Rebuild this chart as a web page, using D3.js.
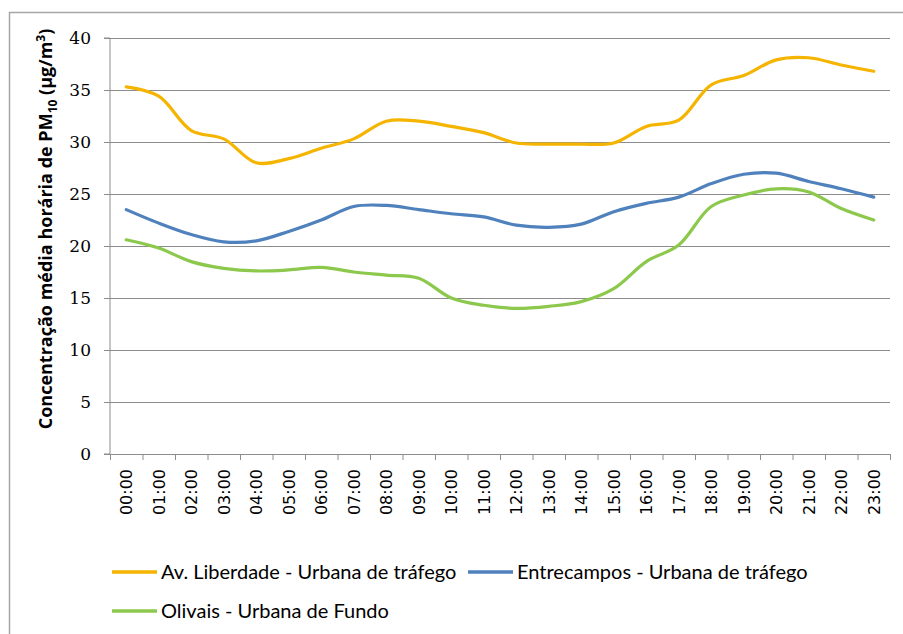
<!DOCTYPE html>
<html>
<head>
<meta charset="utf-8">
<script src="https://cdn.jsdelivr.net/npm/d3@7"></script>
<style>
  body { margin: 0; background: #fff; }
</style>
</head>
<body>
<div id="chart"></div>
<script>
const hours = ["00:00","01:00","02:00","03:00","04:00","05:00","06:00","07:00","08:00","09:00","10:00","11:00",
               "12:00","13:00","14:00","15:00","16:00","17:00","18:00","19:00","20:00","21:00","22:00","23:00"];
const avLiberdade = [35.3,34.4,31.1,30.3,28.0,28.4,29.4,30.3,32.0,32.0,31.5,30.9,
                     29.9,29.8,29.8,29.9,31.5,32.1,35.5,36.4,37.9,38.1,37.4,36.8];
const entrecampos = [23.5,22.2,21.1,20.4,20.5,21.4,22.5,23.8,23.9,23.5,23.1,22.8,
                     22.0,21.8,22.1,23.3,24.1,24.7,26.0,26.9,27.0,26.2,25.5,24.7];
const olivais = [20.6,19.8,18.5,17.85,17.6,17.7,17.95,17.5,17.2,16.9,15.0,14.3,
                 14.0,14.2,14.65,15.9,18.5,20.1,23.8,24.9,25.5,25.2,23.6,22.5];
const yTicks = [0,5,10,15,20,25,30,35,40];

const series = [
  { name: "Av. Liberdade - Urbana de tráfego", values: avLiberdade, color: "#F5B400" },
  { name: "Entrecampos - Urbana de tráfego", values: entrecampos, color: "#4F81BD" },
  { name: "Olivais - Urbana de Fundo", values: olivais, color: "#8CC84B" }
];

const svgWidth = 903;
const svgHeight = 634;
const margin = { top: 38, right: 13, bottom: 180, left: 110 };
const width = svgWidth - margin.left - margin.right;
const height = svgHeight - margin.top - margin.bottom;

const svg = d3.select("#chart").append("svg")
    .attr("width", svgWidth)
    .attr("height", svgHeight);

// outer frame
svg.append("rect")
    .attr("x", 9.5).attr("y", 12.5)
    .attr("width", svgWidth).attr("height", svgHeight)
    .attr("fill", "none")
    .attr("stroke", "#a6a6a6")
    .attr("stroke-width", 1.5);

const chart = svg.append("g")
    .attr("transform", `translate(${margin.left}, ${margin.top})`);

const xScale = d3.scaleBand()
    .domain(hours)
    .range([0, width]);

const yScale = d3.scaleLinear()
    .domain([0, 40])
    .range([height, 0]);

// gridlines
chart.append("g")
    .selectAll("line")
    .data(yTicks.filter(d => d > 0))
    .enter()
    .append("line")
    .attr("x1", 0).attr("x2", width)
    .attr("y1", d => Math.round(yScale(d)) + 0.5)
    .attr("y2", d => Math.round(yScale(d)) + 0.5)
    .attr("stroke", "#8c8c8c")
    .attr("stroke-width", 1);

// y axis
const yAxis = d3.axisLeft(yScale).tickValues(yTicks).tickSize(6).tickPadding(13);
const yg = chart.append("g").call(yAxis);
yg.selectAll("line, path").attr("stroke", "#8c8c8c");
yg.select(".domain").attr("d", `M-6,${height}H0V0H-6`);
yg.selectAll("text")
    .attr("font-family", "DejaVu Serif")
    .attr("font-size", 17)
    .attr("fill", "#000");

// x axis with ticks between categories
const xg = chart.append("g").attr("transform", `translate(0, ${height})`);
xg.append("line")
    .attr("x1", 0).attr("x2", width)
    .attr("y1", 0.5).attr("y2", 0.5)
    .attr("stroke", "#8c8c8c");
xg.selectAll(".tick")
    .data(hours.concat(["end"]))
    .enter()
    .append("line")
    .attr("x1", (d, i) => i * xScale.step() + 0.5)
    .attr("x2", (d, i) => i * xScale.step() + 0.5)
    .attr("y1", 0).attr("y2", 6)
    .attr("stroke", "#8c8c8c");
xg.selectAll(".xlabel")
    .data(hours)
    .enter()
    .append("text")
    .attr("transform", d => `translate(${xScale(d) + xScale.bandwidth() / 2 + 6}, 15) rotate(-90)`)
    .attr("text-anchor", "end")
    .attr("font-family", "DejaVu Sans")
    .attr("font-size", 16)
    .attr("fill", "#000")
    .text(d => d);

// lines
const line = d3.line()
    .x((d, i) => xScale(hours[i]) + xScale.bandwidth() / 2)
    .y(d => yScale(d))
    .curve(d3.curveCatmullRom.alpha(0.5));

chart.selectAll(".series")
    .data(series)
    .enter()
    .append("path")
    .attr("fill", "none")
    .attr("stroke", d => d.color)
    .attr("stroke-width", 3.2)
    .attr("stroke-linecap", "round")
    .attr("d", d => line(d.values));

// y title
const title = svg.append("text")
    .attr("transform", `translate(52, 229) rotate(-90)`)
    .attr("text-anchor", "middle")
    .attr("font-family", "Open Sans")
    .attr("font-weight", "bold")
    .attr("font-size", 18)
    .attr("fill", "#000");
title.append("tspan").text("Concentração média horária de PM");
title.append("tspan").attr("font-size", 12).attr("dy", 5).text("10");
title.append("tspan").attr("dy", -5).text(" (µg/m");
title.append("tspan").attr("font-size", 12).attr("dy", -7).text("3");
title.append("tspan").attr("dy", 7).text(")");

// legend
const legendPos = [
  { x: 112, y: 572 },
  { x: 468, y: 572 },
  { x: 112, y: 611 }
];
const legend = svg.selectAll(".legend")
    .data(series)
    .enter()
    .append("g")
    .attr("transform", (d, i) => `translate(${legendPos[i].x}, ${legendPos[i].y})`);
legend.append("line")
    .attr("x1", 0).attr("x2", 45)
    .attr("y1", 0).attr("y2", 0)
    .attr("stroke", d => d.color)
    .attr("stroke-width", 3.5);
legend.append("text")
    .attr("x", 49)
    .attr("y", 0)
    .attr("dy", "0.35em")
    .attr("font-family", "Lato")
    .attr("font-size", 20)
    .attr("fill", "#000")
    .text(d => d.name);
</script>
</body>
</html>
